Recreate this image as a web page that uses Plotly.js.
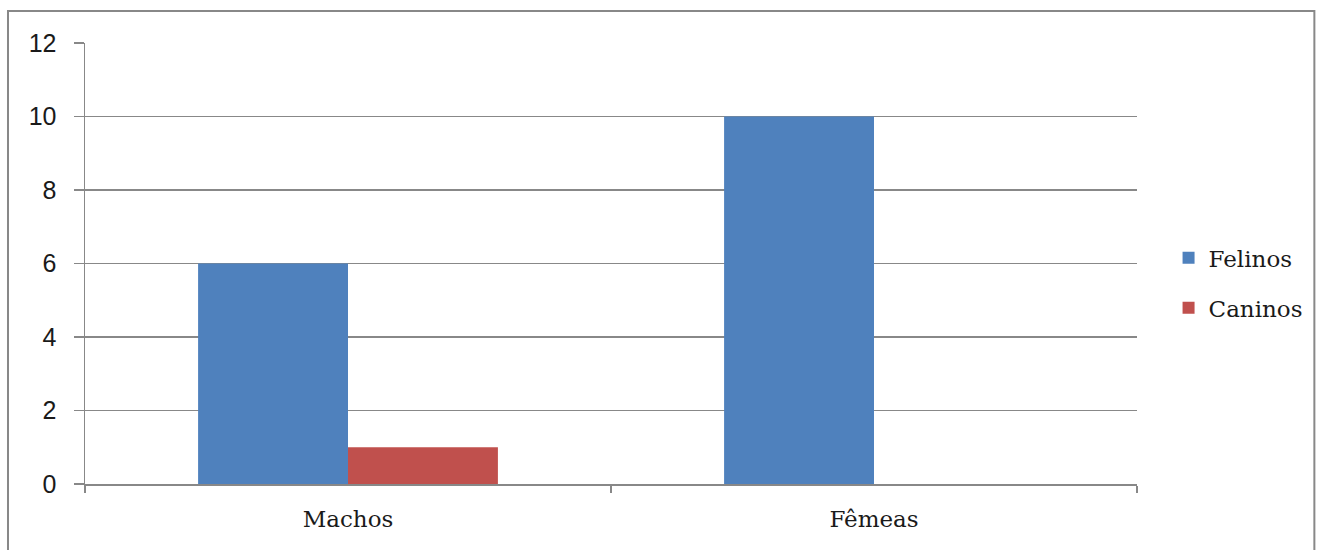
<!DOCTYPE html>
<html>
<head>
<meta charset="utf-8">
<script src="https://cdn.plot.ly/plotly-3.0.1.min.js"></script>
<style>
html,body{margin:0;padding:0;background:#fff;}
#chart{width:1323px;height:550px;}
</style>
</head>
<body>
<div id="chart"></div>
<script>
const categories = ["Machos", "Fêmeas"];
const seriesNames = ["Felinos", "Caninos"];
const felinos = [6, 10];
const caninos = [1, 0];
const yTicks = [0, 2, 4, 6, 8, 10, 12];

const serif = "'DejaVu Serif', 'Liberation Serif', serif";
const sans = "'Liberation Sans', 'Open Sans', sans-serif";

const traces = [
  {type: "bar", name: seriesNames[0], x: categories, y: felinos,
   marker: {color: "#4F81BD"}, legendgroup: "a"},
  {type: "bar", name: seriesNames[1], x: categories, y: caninos,
   marker: {color: "#C0504D"}, legendgroup: "b"}
];

const layout = {
  width: 1323, height: 550,
  margin: {l: 85, r: 186, t: 43, b: 66},
  paper_bgcolor: "#fff", plot_bgcolor: "#fff",
  barmode: "group", bargap: 0.43, bargroupgap: 0,
  showlegend: true,
  legend: {x: 1.03, y: 0.456, xanchor: "left", yanchor: "middle",
           font: {family: serif, size: 23, color: "#1a1a1a"},
           traceorder: "grouped", tracegroupgap: 17, itemwidth: 30},
  xaxis: {type: "category", tickson: "boundaries", ticks: "outside", ticklen: 7,
          tickcolor: "#888", tickwidth: 1.5, showline: true, linecolor: "#888", linewidth: 1.5,
          tickfont: {family: serif, size: 23, color: "#1a1a1a"}, showgrid: false, zeroline: false,
          ticklabelstandoff: 14, range: [-0.5, 1.5]},
  yaxis: {range: [0, 12], tickvals: yTicks, ticks: "outside", ticklen: 10, tickcolor: "#888",
          tickwidth: 1.5, showline: true, linecolor: "#888", linewidth: 1.5,
          showgrid: true, gridcolor: "#888", gridwidth: 1.5, zeroline: false,
          ticklabelstandoff: 12,
          tickfont: {family: sans, size: 25, color: "#1a1a1a"}},
  shapes: [{type: "rect", xref: "paper", yref: "paper", x0: -0.0732, x1: 1.1686,
            y0: -0.2, y1: 1.0726, line: {color: "#888", width: 2}, layer: "below"}]
};

Plotly.newPlot("chart", traces, layout, {displayModeBar: false, staticPlot: true});
</script>
</body>
</html>
